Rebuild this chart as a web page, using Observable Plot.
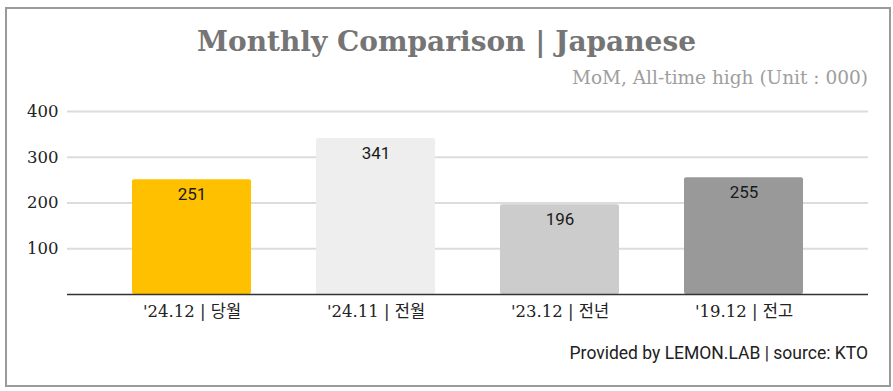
<!DOCTYPE html>
<html>
<head>
<meta charset="utf-8">
<script src="https://cdn.jsdelivr.net/npm/d3@7"></script>
<script src="https://cdn.jsdelivr.net/npm/@observablehq/plot@0.6"></script>
<style>
  body { margin: 0; background: #fff; }
  #wrap { position: relative; width: 893px; height: 391px; overflow: hidden; background: #fff; }
  #frame { position: absolute; left: 5px; top: 7px; width: 882px; height: 376px; border: 2px solid #9a9a9a; }
  #title { position: absolute; left: 0; width: 893px; top: 25px; text-align: center;
           font-family: "DejaVu Serif", serif; font-weight: bold; font-size: 28px; color: #757575; }
  #subtitle { position: absolute; right: 25px; top: 67px; font-family: "DejaVu Serif", serif;
              font-size: 18.5px; color: #9e9e9e; }
  #caption { position: absolute; right: 25px; top: 343px; font-family: Roboto, sans-serif;
             font-size: 17.5px; color: #212121; }
  #chart { position: absolute; left: 0; top: 0; }
</style>
</head>
<body>
<div id="wrap">
  <div id="frame"></div>
  <div id="chart"></div>
  <div id="title">Monthly Comparison | Japanese</div>
  <div id="subtitle">MoM, All-time high (Unit : 000)</div>
  <div id="caption">Provided by LEMON.LAB | source: KTO</div>
</div>
<script>
const categories = ["'24.12 | 당월", "'24.11 | 전월", "'23.12 | 전년", "'19.12 | 전고"];
const values = [251, 341, 196, 255];
const colors = ["#FFC000", "#EEEEEE", "#CCCCCC", "#999999"];
const yTicks = [100, 200, 300, 400];

const data = categories.map((c, i) => ({category: c, value: values[i], color: colors[i]}));

const chart = Plot.plot({
  width: 893,
  height: 391,
  marginLeft: 67,
  marginRight: 25,
  marginTop: 111,
  marginBottom: 97,
  style: {fontFamily: "'DejaVu Serif', 'Noto Sans CJK KR', serif", fontSize: "15px", color: "#222", background: "transparent"},
  x: {domain: categories, padding: 0.353, label: null},
  y: {domain: [0, 400], label: null, ticks: yTicks},
  marks: [
    Plot.ruleY(yTicks, {stroke: "#dcdcdc", strokeWidth: 2}),
    Plot.barY(data, {x: "category", y: "value", fill: "color", rx: 2}),
    Plot.ruleY([0], {stroke: "#333", strokeWidth: 1.5}),
    Plot.text(data, {x: "category", y: "value", text: d => String(d.value), dy: 15,
      fill: "#1a1a1a", fontSize: 17, fontFamily: "Roboto, sans-serif"}),
    Plot.axisY({ticks: yTicks, tickSize: 0, tickPadding: 9, label: null, fontSize: 16.5, fill: "#222"}),
    Plot.axisX({tickSize: 0, tickPadding: 11, label: null, fontSize: 16.5, fill: "#222"})
  ]
});
document.getElementById("chart").appendChild(chart);
</script>
</body>
</html>
